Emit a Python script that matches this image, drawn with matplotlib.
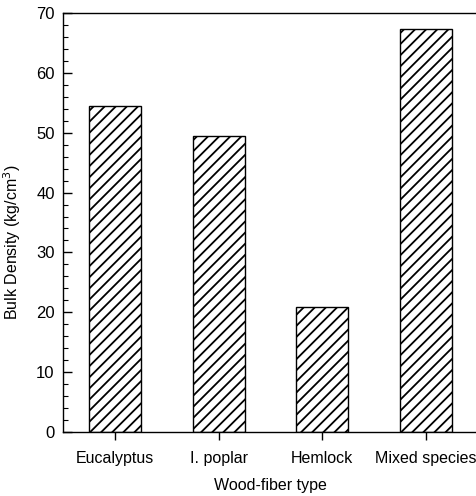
import matplotlib.pyplot as plt
from matplotlib.ticker import MultipleLocator

plt.rcParams['font.family'] = ['Liberation Sans', 'DejaVu Sans']
plt.rcParams['hatch.linewidth'] = 1.3

# data
fiber_types = ["Eucalyptus", "I. poplar", "Hemlock", "Mixed species"]
bulk_density = [54.4, 49.5, 20.8, 67.4]

fig = plt.figure(figsize=(4.76, 4.96), dpi=100)
ax = fig.add_axes([63 / 476, 64 / 496, 415 / 476, 419 / 496])

x = range(len(fiber_types))
ax.bar(x, bulk_density, width=0.5, color='white', edgecolor='black',
       linewidth=1.0, hatch='///')

ax.set_xlim(-0.5, 3.5)
ax.set_ylim(0, 70)
ax.set_xticks(list(x))
ax.set_xticklabels(fiber_types, fontsize=11.5)
ax.yaxis.set_major_locator(MultipleLocator(10))
ax.yaxis.set_minor_locator(MultipleLocator(2))
ax.tick_params(axis='y', which='major', direction='in', length=6.5, width=1,
               labelsize=12, pad=6)
ax.tick_params(axis='y', which='minor', direction='in', length=3.5, width=0.8)
ax.tick_params(axis='x', which='major', direction='out', length=6, width=1, pad=7.5)
ax.tick_params(axis='x', which='minor', bottom=False)

ax.set_xlabel("Wood-fiber type", fontsize=11.5, labelpad=9)
ax.set_ylabel("Bulk Density (kg/cm$^3$)", fontsize=11.5)
ax.yaxis.set_label_coords(-0.096, 0.453)

for s in ax.spines.values():
    s.set_linewidth(1.0)

plt.savefig("out.png", dpi=100)
